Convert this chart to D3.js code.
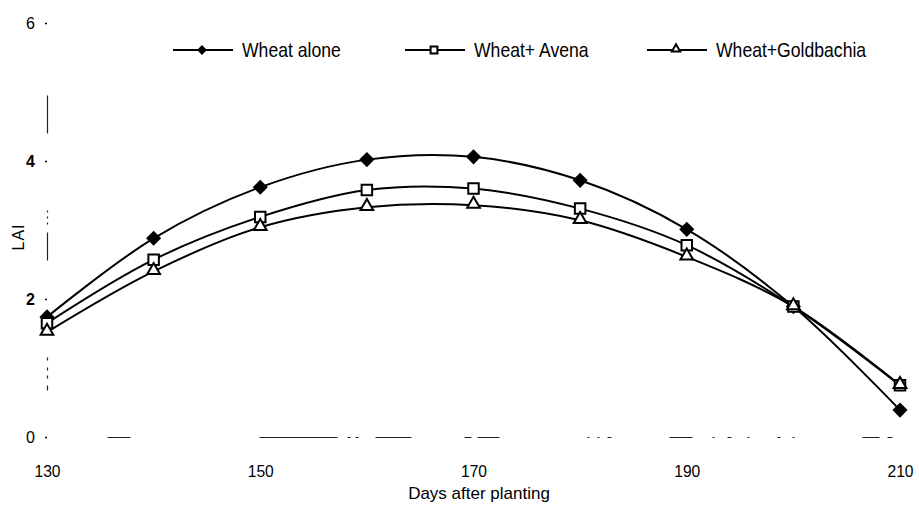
<!DOCTYPE html>
<html>
<head>
<meta charset="utf-8">
<script src="https://cdn.jsdelivr.net/npm/d3@7"></script>
<style>
  html, body { margin: 0; padding: 0; background: #fff; }
  svg { display: block; }
  text { font-family: "Liberation Sans", Arial, sans-serif; fill: #000; }
</style>
</head>
<body>
<svg id="chart" width="919" height="510"></svg>
<script>
// Leaf area index over the season
const days = [130, 140, 150, 160, 170, 180, 190, 200, 210];
const wheatAlone      = [1.74, 2.88, 3.62, 4.02, 4.06, 3.72, 3.01, 1.89, 0.39];
const wheatAvena      = [1.65, 2.57, 3.19, 3.58, 3.60, 3.31, 2.78, 1.89, 0.75];
const wheatGoldbachia = [1.52, 2.40, 3.04, 3.33, 3.36, 3.14, 2.61, 1.89, 0.75];
const seriesNames = ["Wheat alone", "Wheat+ Avena", "Wheat+Goldbachia"];
const xTickValues = [130, 150, 170, 190, 210];
const yTickValues = [0, 2, 4, 6];
const xTitle = "Days after planting";
const yTitle = "LAI";

const svg = d3.select("#chart");
const W = 919, H = 510;
const margin = { left: 47, right: 19, top: 23, bottom: 73 };

const x = d3.scaleLinear().domain([130, 210]).range([margin.left, W - margin.right]);
const y = d3.scaleLinear().domain([0, 6]).range([H - margin.bottom, margin.top]);

// turn a list of [from,to] visible stretches along a path into a dasharray
function dashFrom(stretches, total) {
  const out = [0];
  let pos = 0;
  stretches.forEach(([a, b]) => {
    out.push(a - pos);      // gap
    out.push(b - a);        // dash
    pos = b;
  });
  out.push(total - pos + 1000);
  return out.join(",");
}

// x axis (worn print: only broken stretches of the rule survive)
const xAxis = d3.axisBottom(x).tickValues(xTickValues).tickSize(0).tickSizeOuter(0).tickPadding(28)
  .tickFormat(d3.format("d"));
const gx = svg.append("g").attr("transform", `translate(0,${y(0)})`).call(xAxis);
gx.select(".domain")
  .attr("stroke", "#222").attr("stroke-width", 1.2)
  .attr("stroke-dasharray", dashFrom([[60,83],[212,290],[300,303],[308,311],[328,364],[417,424],[430,452],
    [540,542],[550,552],[560,564],[622,645],[665,667],[680,684],[700,702],[730,733],[745,747],[815,832],[840,845]], 853));
gx.selectAll(".tick text")
  .attr("font-size", 17).attr("fill", "#000").attr("font-family", null)
  .attr("transform", "scale(0.92,1)");

// y axis
const yAxis = d3.axisLeft(y).tickValues(yTickValues).tickSize(2).tickSizeOuter(0).tickPadding(10)
  .tickFormat(d3.format("d"));
const gy = svg.append("g").attr("transform", `translate(${x(130)},0)`).call(yAxis);
gy.select(".domain")
  .attr("stroke", "#222").attr("stroke-width", 1.2)
  .attr("stroke-dasharray", dashFrom([[47,52],[59,62],[67,70],[77,80],[177,205],[213,215],[219,221],[225,227],[304,342]], 414));
gy.selectAll(".tick line").attr("stroke", "#000").attr("stroke-width", 1.5);
gy.selectAll(".tick text").attr("font-size", 16).attr("fill", "#000").attr("font-family", null)
  .attr("font-weight", d => (d === 2 || d === 4) ? "bold" : "normal");

// axis titles
svg.append("text").attr("x", 479).attr("y", 499).attr("text-anchor", "middle")
  .attr("font-size", 17).text(xTitle);
svg.append("text").attr("transform", `translate(24,${y(3) + 7}) rotate(-90)`).attr("text-anchor", "middle")
  .attr("font-size", 16).attr("letter-spacing", 1).text(yTitle);

// series
const series = [
  { name: seriesNames[0], values: wheatAlone, marker: "diamond" },
  { name: seriesNames[1], values: wheatAvena, marker: "square" },
  { name: seriesNames[2], values: wheatGoldbachia, marker: "triangle" }
];

const line = d3.line()
  .x(d => x(d.day))
  .y(d => y(d.v))
  .curve(d3.curveCatmullRom.alpha(0.5));

series.forEach(s => {
  s.points = days.map((day, i) => ({ day, v: s.values[i] }));
  svg.append("path").datum(s.points)
    .attr("fill", "none").attr("stroke", "#000").attr("stroke-width", 2)
    .attr("d", line);
});

function drawMarker(g, kind, scale) {
  if (kind === "diamond") {
    g.append("path").attr("d", d3.symbol(d3.symbolSquare, 115 * scale * scale)())
      .attr("transform", "rotate(45)").attr("fill", "#000");
  } else if (kind === "square") {
    g.append("path").attr("d", d3.symbol(d3.symbolSquare, 110 * scale * scale)())
      .attr("fill", "#fff").attr("stroke", "#000").attr("stroke-width", 2);
  } else {
    g.append("path").attr("d", d3.symbol(d3.symbolTriangle, 70 * scale * scale)())
      .attr("transform", "translate(0,-1)")
      .attr("fill", "#fff").attr("stroke", "#000").attr("stroke-width", 2);
  }
}

series.forEach(s => {
  s.points.forEach(p => {
    const g = svg.append("g").attr("transform", `translate(${x(p.day)},${y(p.v)})`);
    drawMarker(g, s.marker, 1);
  });
});

// legend
const legendX = [173, 405, 647];
const legendY = 50;
series.forEach((s, i) => {
  const g = svg.append("g").attr("transform", `translate(${legendX[i]},${legendY})`);
  g.append("line").attr("x1", 0).attr("x2", 60).attr("y1", 0).attr("y2", 0)
    .attr("stroke", "#000").attr("stroke-width", 2);
  const m = g.append("g").attr("transform", "translate(29,0)");
  drawMarker(m, s.marker, 0.65);
  g.append("text").attr("transform", "translate(69,7) scale(0.88,1)")
    .attr("font-size", 20).text(s.name);
});
</script>
</body>
</html>
